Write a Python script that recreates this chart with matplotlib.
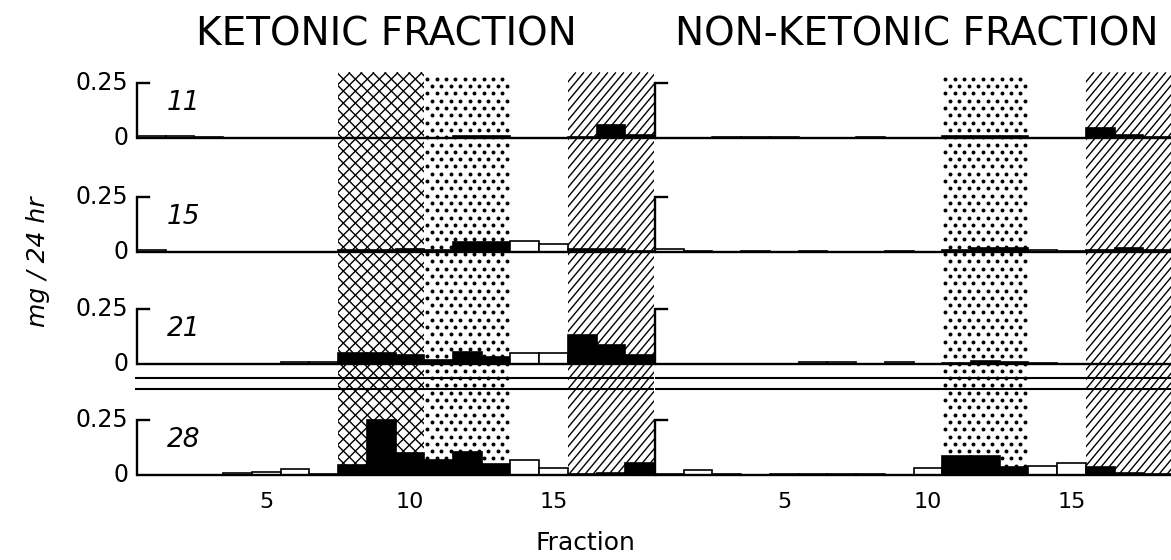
import numpy as np
import matplotlib
matplotlib.use('Agg')
import matplotlib.pyplot as plt
from matplotlib.patches import Rectangle
from matplotlib.collections import LineCollection

# fraction numbers along the x axis
fractions = np.arange(1, 19)
days = ['11', '15', '21', '28']

# mg / 24 hr per fraction, ketonic fraction
ket_11 = [0.010, 0.010, 0.006, 0, 0, 0, 0, 0, 0, 0, 0.002, 0.010, 0.010, 0, 0, 0.006, 0.060, 0.012]
ket_15 = [0.010, 0, 0, 0, 0, 0, 0, 0.008, 0.010, 0.012, 0.010, 0.045, 0.045, 0.050, 0.035, 0.012, 0.012, 0.006]
ket_21 = [0, 0, 0, 0, 0, 0.007, 0.007, 0.050, 0.050, 0.040, 0.020, 0.055, 0.033, 0.050, 0.050, 0.130, 0.085, 0.040]
ket_28 = [0, 0, 0, 0.008, 0.015, 0.027, 0.005, 0.045, 0.250, 0.100, 0.070, 0.105, 0.050, 0.068, 0.030, 0.005, 0.008, 0.053]

# mg / 24 hr per fraction, non-ketonic fraction
non_11 = [0, 0, 0.004, 0.004, 0.004, 0, 0, 0.004, 0, 0, 0.008, 0.008, 0.008, 0, 0, 0.045, 0.014, 0.004]
non_15 = [0.015, 0.003, 0, 0.004, 0, 0.005, 0, 0, 0.005, 0, 0.008, 0.018, 0.018, 0.010, 0.005, 0.010, 0.020, 0.008]
non_21 = [0, 0, 0, 0, 0, 0.008, 0.008, 0, 0.011, 0, 0.006, 0.012, 0.008, 0.004, 0, 0, 0, 0]
non_28 = [0.004, 0.025, 0.006, 0, 0.003, 0.006, 0.006, 0.004, 0, 0.030, 0.085, 0.085, 0.035, 0.042, 0.055, 0.035, 0.010, 0.003]

ketonic = [ket_11, ket_15, ket_21, ket_28]
non_ketonic = [non_11, non_15, non_21, non_28]

# shaded fraction ranges
ket_zones = [(7.5, 10.5, 'cross'), (10.5, 13.5, 'dots'), (15.5, 18.5, 'diag')]
non_zones = [(10.5, 13.5, 'dots'), (15.5, 18.5, 'diag')]

# vertical offset of each day's baseline (data units, 0.25 per step)
offsets = [1.532, 1.014, 0.505, 0.0]
break_lines = [0.441, 0.391]
zone_top = 1.83
tick_len = 0.42

W, H, DPI = 1171, 560, 100
fig = plt.figure(figsize=(W / DPI, H / DPI), dpi=DPI)
fig.patch.set_facecolor('white')

NUM = ['DejaVu Sans']

ax_bottom = 1 - 479.5 / H
ax_height = (479.5 - 68) / H
ax_k = fig.add_axes([137 / W, ax_bottom, 517 / W, ax_height])
ax_n = fig.add_axes([655 / W, ax_bottom, 517 / W, ax_height])


def shade(ax, x0, x1, y0, y1, kind):
    bg = Rectangle((x0, y0), x1 - x0, y1 - y0, facecolor='white',
                   edgecolor='none', zorder=1)
    ax.add_patch(bg)
    (a, b), (c, d) = ax.transData.transform([(x0, y0), (x1, y1)])
    inv = ax.transData.inverted()
    if kind == 'dots':
        pts = []
        dx, dy = 9.4, 7.3
        j = 0
        yy = b + 2
        while yy < d:
            xx = a + 3 + (dx / 2 if j % 2 else 0)
            while xx < c - 1:
                pts.append((xx, yy))
                xx += dx
            yy += dy
            j += 1
        pts = inv.transform(np.array(pts))
        sc = ax.scatter(pts[:, 0], pts[:, 1], s=8, color='black',
                        linewidths=0, zorder=2)
        sc.set_clip_path(bg)
        return
    if kind == 'cross':
        families = [(1.0, 12.0), (-1.0, 12.0)]
        lw = 1.0
    else:
        families = [(1.2, 8.0)]
        lw = 1.0
    h = d - b
    segs = []
    for slope, step in families:
        run = h / slope
        t = a - abs(run) - step
        while t < c + abs(run) + step:
            segs.append(inv.transform([(t, b), (t + run, d)]))
            t += step
    lc = LineCollection(segs, colors='black', linewidths=lw, zorder=2)
    ax.add_collection(lc, autolim=False)
    lc.set_clip_path(bg)


def draw_panel(ax, series, zones, show_labels):
    ax.set_xlim(0.5, 18.5)
    ax.set_ylim(-0.02, 1.85)
    for s in ax.spines.values():
        s.set_visible(False)
    ax.set_yticks([])
    ax.set_xticks([5, 10, 15])
    ax.set_xticklabels(['5', '10', '15'], family=NUM, fontsize=16)
    ax.tick_params(axis='x', length=0, pad=9)
    ax.patch.set_alpha(0)

    for x0, x1, kind in zones:
        shade(ax, x0, x1, 0.0, zone_top, kind)

    shaded = np.zeros(len(fractions), dtype=bool)
    for x0, x1, _ in zones:
        shaded |= (fractions > x0) & (fractions < x1)
    colors = ['black' if s else 'white' for s in shaded]

    for vals, off, day in zip(series, offsets, days):
        ax.bar(fractions, vals, width=1.0, bottom=off, color=colors,
               edgecolor='black', linewidth=1.2, zorder=3)
        ax.hlines(off, 0.5, 18.5, color='black', lw=1.7, zorder=4)
        ax.plot([0.5, 0.5, 0.5 + tick_len], [off, off + 0.25, off + 0.25],
                color='black', lw=1.7, zorder=4, clip_on=False,
                solid_joinstyle='miter')
        if show_labels:
            ax.text(0.2, off + 0.25, '0.25', ha='right', va='center',
                    family=NUM, fontsize=17)
            ax.text(0.2, off, '0', ha='right', va='center',
                    family=NUM, fontsize=17)
            ax.text(1.55, off + 0.16, day, ha='left', va='center',
                    family=NUM, fontsize=19, style='italic')

    for y in break_lines:
        ax.hlines(y, 0.5, 18.5, color='black', lw=1.5, zorder=4)


draw_panel(ax_k, ketonic, ket_zones, True)
draw_panel(ax_n, non_ketonic, non_zones, False)
ax_k.hlines(break_lines, 0.42, 0.5, color='black', lw=1.5, clip_on=False)

fig.text(386 / W, 1 - 35 / H, 'KETONIC FRACTION', ha='center', va='center',
         family=NUM, fontsize=28)
fig.text(917 / W, 1 - 35 / H, 'NON-KETONIC FRACTION', ha='center', va='center',
         family=NUM, fontsize=28)
fig.text(585 / W, 1 - 543 / H, 'Fraction', ha='center', va='center',
         family=NUM, fontsize=18)
fig.text(38 / W, 1 - 262 / H, 'mg / 24 hr', ha='center', va='center',
         rotation=90, family=NUM, fontsize=18, style='italic')

fig.savefig('out.png', dpi=DPI, facecolor='white')
